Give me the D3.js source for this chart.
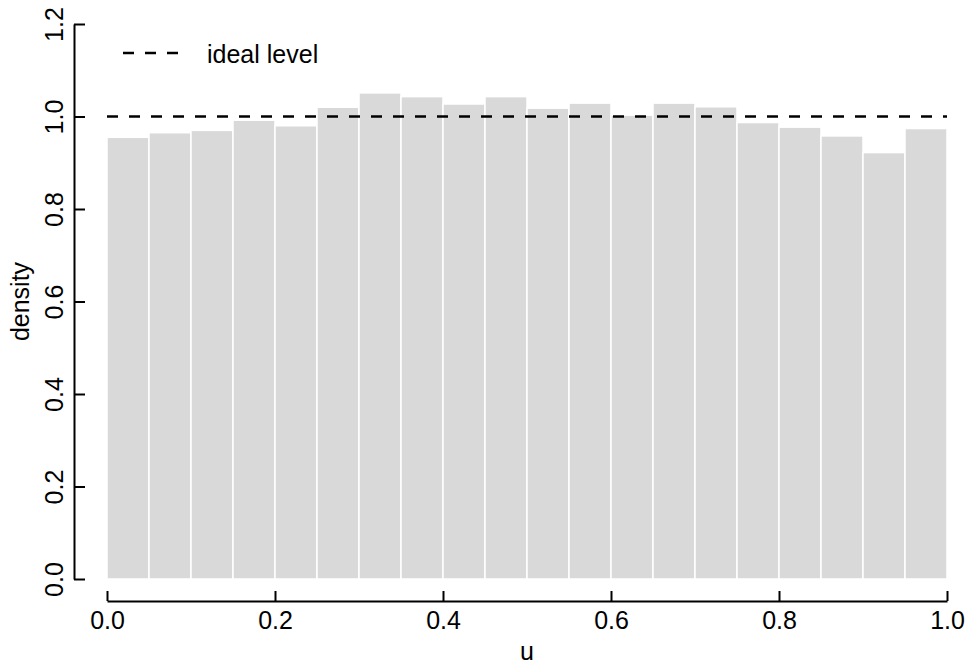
<!DOCTYPE html>
<html>
<head>
<meta charset="UTF-8">
<title>Histogram of u</title>
<style>
  body { margin: 0; background: #fff; }
  text { font-family: "Liberation Sans", Arial, sans-serif; fill: #000; }
</style>
</head>
<body>
<svg width="970" height="666"></svg>
<script src="https://d3js.org/d3.v7.min.js"></script>
<script>
// histogram bins (breaks every 0.05) and their densities
const breaks = [0, 0.05, 0.1, 0.15, 0.2, 0.25, 0.3, 0.35, 0.4, 0.45, 0.5,
                0.55, 0.6, 0.65, 0.7, 0.75, 0.8, 0.85, 0.9, 0.95, 1.0];
const density = [0.955, 0.965, 0.970, 0.992, 0.980, 1.020, 1.051, 1.043, 1.027, 1.043,
                 1.018, 1.029, 1.003, 1.029, 1.021, 0.987, 0.977, 0.958, 0.922, 0.974];
const xTicks = [0, 0.2, 0.4, 0.6, 0.8, 1.0];
const yTicks = [0, 0.2, 0.4, 0.6, 0.8, 1.0, 1.2];
const idealLevel = 1.0;

const fs = 25;
const svg = d3.select("svg");
const x = d3.scaleLinear().domain([0, 1]).range([107, 947]);
const y = d3.scaleLinear().domain([0, 1.2]).range([579, 24]);

const bins = density.map((d, i) => ({ x0: breaks[i], x1: breaks[i + 1], v: d }));

svg.append("g")
  .selectAll("rect")
  .data(bins)
  .enter().append("rect")
  .attr("x", d => x(d.x0))
  .attr("y", d => y(d.v))
  .attr("width", d => x(d.x1) - x(d.x0))
  .attr("height", d => y(0) - y(d.v))
  .attr("fill", "#d9d9d9")
  .attr("stroke", "#fff")
  .attr("stroke-width", 1.5);

// ideal level line
svg.append("line")
  .attr("x1", x(0)).attr("x2", x(1))
  .attr("y1", y(idealLevel)).attr("y2", y(idealLevel))
  .attr("stroke", "#000")
  .attr("stroke-width", 2.7)
  .attr("stroke-dasharray", "11,11");

// x axis (ticks point inward)
const xAxis = d3.axisBottom(x).tickValues(xTicks).tickFormat(d3.format(".1f"))
  .tickSizeInner(-10).tickSizeOuter(0).tickPadding(0);
const gx = svg.append("g").attr("transform", "translate(0,601)").call(xAxis);
gx.select(".domain").attr("stroke-width", 2);
gx.selectAll(".tick line").attr("stroke-width", 2);
gx.selectAll("text")
  .attr("font-size", fs)
  .attr("font-family", "Liberation Sans, Arial, sans-serif")
  .attr("dy", null)
  .attr("y", 28);

// y axis
const yAxis = d3.axisLeft(y).tickValues(yTicks).tickFormat(d3.format(".1f"))
  .tickSizeInner(-11).tickSizeOuter(0).tickPadding(0);
const gy = svg.append("g").attr("transform", "translate(74,0)").call(yAxis);
gy.select(".domain").attr("stroke-width", 2);
gy.selectAll(".tick line").attr("stroke-width", 2);
gy.selectAll("text")
  .attr("font-size", fs)
  .attr("font-family", "Liberation Sans, Arial, sans-serif")
  .attr("x", null).attr("dy", null)
  .attr("text-anchor", "middle")
  .attr("transform", "translate(-11,0) rotate(-90)");

// axis titles
svg.append("text")
  .attr("x", x(0.5)).attr("y", 660)
  .attr("text-anchor", "middle")
  .attr("font-size", fs)
  .text("u");

svg.append("text")
  .attr("transform", `translate(29,${y(0.6)}) rotate(-90)`)
  .attr("text-anchor", "middle")
  .attr("font-size", fs)
  .text("density");

// legend
svg.append("line")
  .attr("x1", 123).attr("x2", 178)
  .attr("y1", 53).attr("y2", 53)
  .attr("stroke", "#000")
  .attr("stroke-width", 2.7)
  .attr("stroke-dasharray", "11,11");
svg.append("text")
  .attr("x", 207).attr("y", 63)
  .attr("font-size", fs)
  .text("ideal level");
</script>
</body>
</html>
